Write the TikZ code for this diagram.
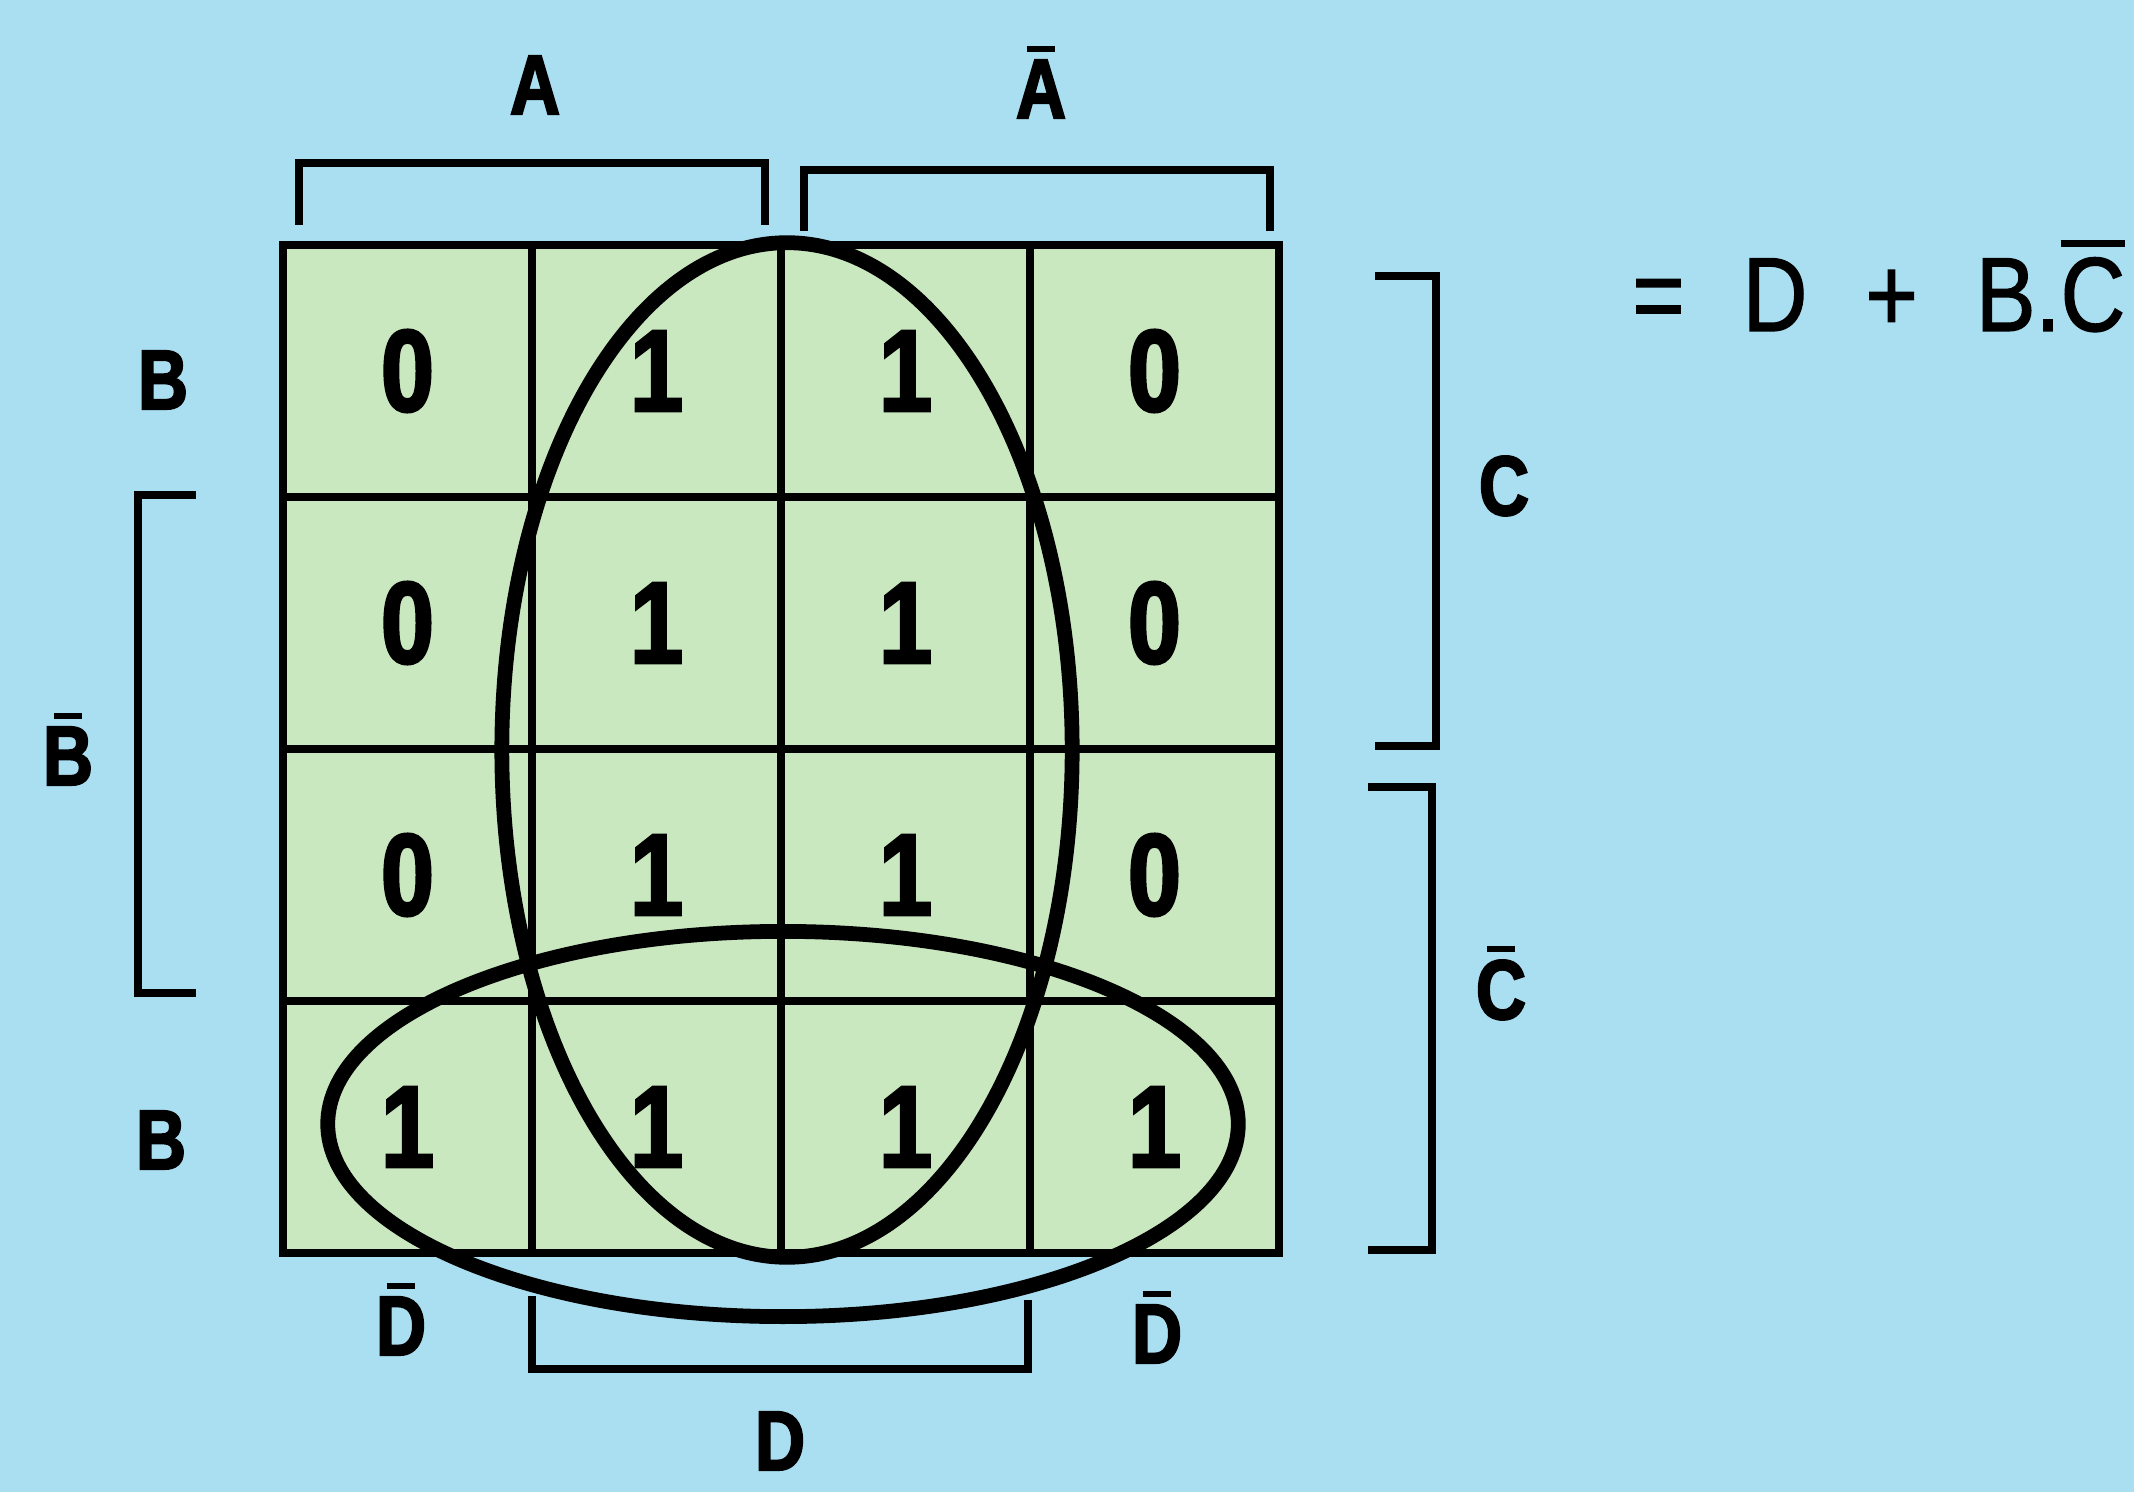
\documentclass[tikz,border=0pt]{standalone}
\usepackage{fontspec}
\usetikzlibrary{shapes.geometric, positioning}
\newfontfamily\labelfont[FakeStretch=0.82, FakeBold=2.5]{Liberation Sans}
\newfontfamily\resultfont[FakeStretch=0.85, FakeBold=1.2]{Liberation Sans}
\definecolor{skyblue}{RGB}{170,223,242}
\definecolor{cellgreen}{RGB}{202,232,192}
% short bar over a letter
\newcommand\nbar[2][0.55]{\setbox0\hbox{#2}\rlap{\hbox to\wd0{\hss\rule[1.14\ht0]{#1\wd0}{0.1\ht0}\hss}}\box0}

\begin{document}
\begin{tikzpicture}[
    x=0.01cm, y=-0.01cm,
    cellbox/.style={
        draw,
        fill=cellgreen,
        line width=2.2pt,
        minimum width=2.49cm,
        minimum height=2.52cm,
        inner sep=0pt,
        font=\labelfont\bfseries\fontsize{33}{33}\selectfont
    },
    lbl/.style={inner sep=0pt, anchor=base, font=\labelfont\bfseries\fontsize{24}{24}\selectfont},
    bracket/.style={line width=2.2pt},
    loop/.style={draw, ellipse, line width=4.2pt, inner sep=0pt}
]
\fill[skyblue] (0,0) rectangle (2134,1492);
\useasboundingbox (0,0) rectangle (2134,1492);

% --- Map cells ---
\foreach \r in {1,...,4} {
    \foreach \c in {1,...,4} {
        \pgfmathtruncatemacro\v{(\r==4)||(\c==2)||(\c==3)}
        \node[cellbox] (cell-\r-\c) at ({283+249*(\c-0.5)}, {245+252*(\r-0.5)}) {\v};
    }
}

% --- Groups ---
\node[loop, minimum width=5.7cm, minimum height=10.14cm] (quadV) at (787,750) {};
\node[loop, minimum width=9.1cm, minimum height=3.85cm] (quadH) at (783,1124) {};

% --- Brackets ---
\draw[bracket] (299,225) -- (299,163) -- (765,163) -- (765,225);
\draw[bracket] (804,231) -- (804,170) -- (1270,170) -- (1270,231);
\draw[bracket] (196,495) -- (138,495) -- (138,993) -- (196,993);
\draw[bracket] (1375,276) -- (1436,276) -- (1436,746) -- (1375,746);
\draw[bracket] (1368,787) -- (1432,787) -- (1432,1250) -- (1368,1250);
\draw[bracket] (532,1296) -- (532,1369) -- (1028,1369) -- (1028,1300);

% --- Labels ---
\node[lbl] (lblA) at (535,114) {A};
\node[lbl] (lblAn) at (1041,118) {\nbar{A}};
\node[lbl] (lblB1) at (163,409) {B};
\node[lbl] (lblBn) at (68,785) {\nbar{B}};
\node[lbl] (lblB2) at (161,1169) {B};
\node[lbl] (lblC) at (1504,515) {C};
\node[lbl] (lblCn) at (1501,1019) {\nbar{C}};
\node[lbl] (lblDn1) at (401,1355) {\nbar{D}};
\node[lbl] (lblDn2) at (1157,1363) {\nbar{D}};
\node[lbl] (lblD) at (780,1470) {D};

% --- Result ---
\node[inner sep=0pt, anchor=base east, font=\resultfont\fontsize{30}{30}\selectfont] (result)
    at (2126,331) {=\hspace{0.55em}D\hspace{0.55em}+\hspace{0.55em}B.\nbar[1]{C}};

\end{tikzpicture}
\end{document}
